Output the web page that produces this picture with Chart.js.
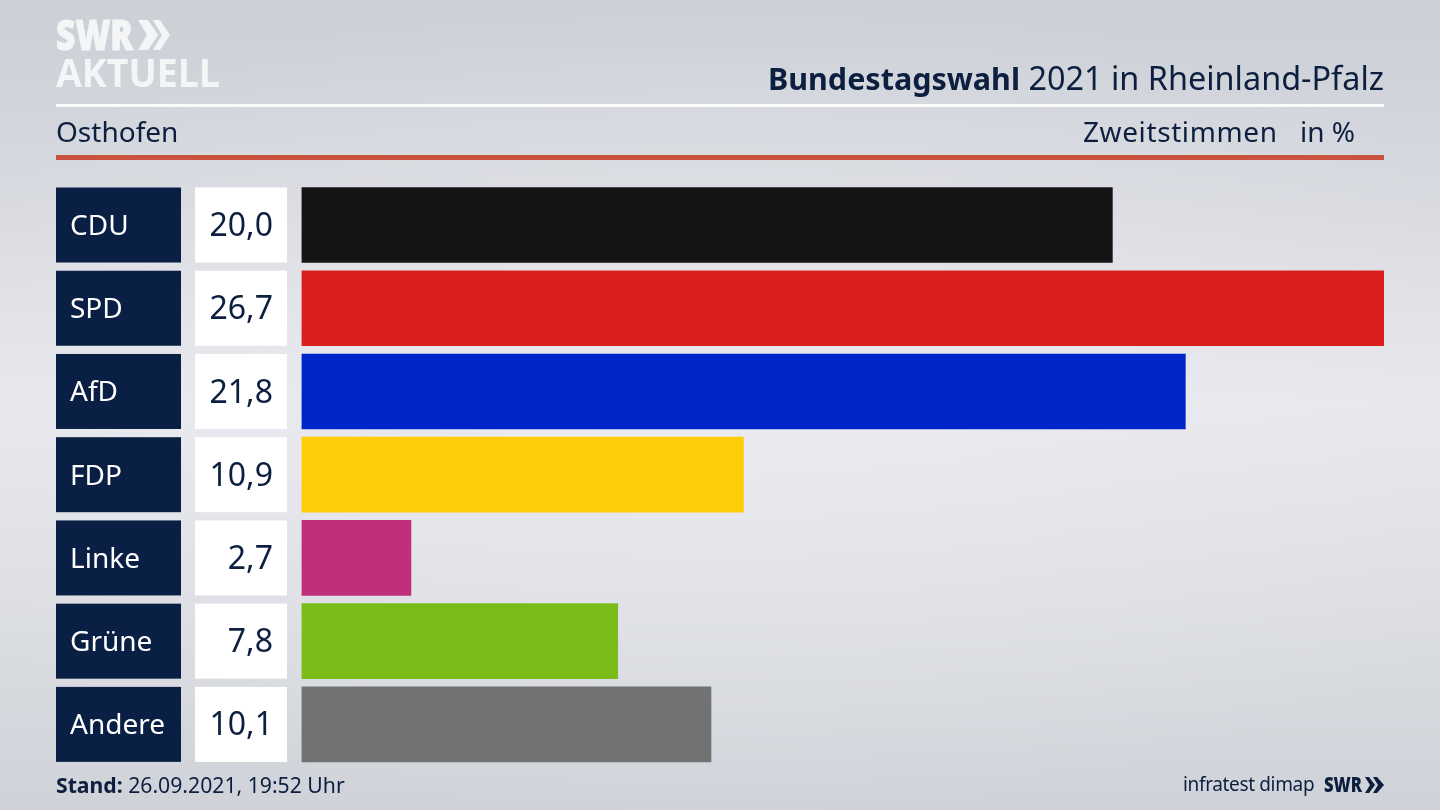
<!DOCTYPE html>
<html lang="de">
<head>
<meta charset="utf-8">
<title>Bundestagswahl 2021 in Rheinland-Pfalz</title>
<script src="https://cdn.jsdelivr.net/npm/chart.js@4"></script>
<style>
  html, body { margin: 0; padding: 0; }
  body {
    width: 1440px; height: 810px; overflow: hidden; position: relative;
    font-family: "Noto Sans", sans-serif; color: #0c1f3f;
    background:
      radial-gradient(ellipse 900px 420px at 50% 50%, rgba(240,240,245,.45), rgba(240,240,245,0)),
      linear-gradient(180deg, #cbcfd6 0%, #d8dae0 25%, #e7e8ed 50%, #dcdee3 75%, #cfd2d8 100%);
  }
  #chart { position: absolute; left: 0; top: 0; }
  .txt { position: absolute; white-space: nowrap; line-height: 1; }
  .rule { position: absolute; left: 56px; width: 1328px; }
  svg { position: absolute; left: 0; top: 0; }
</style>
</head>
<body>
<canvas id="chart" width="1440" height="810"></canvas>

<svg width="1440" height="810">
  <text x="56" y="50" font-family="Open Sans" font-weight="800" font-size="42" fill="#f4f5f7" stroke="#f4f5f7" stroke-width="1" textLength="77" lengthAdjust="spacingAndGlyphs">SWR</text>
  <polygon points="138,20 148,20 158,35 148,50 138,50 147,35" fill="#f4f5f7"/>
  <polygon points="153,20 160,20 170,35 160,50 153,50 162,35" fill="#f4f5f7"/>
  <text x="56" y="87" font-family="Open Sans" font-weight="700" font-size="40" fill="#f4f5f7" textLength="164" lengthAdjust="spacingAndGlyphs">AKTUELL</text>
  <text x="1324" y="792" font-family="Open Sans" font-weight="800" font-size="21" fill="#0c1f3f" textLength="38" lengthAdjust="spacingAndGlyphs">SWR</text>
  <polygon points="1365,777 1369,777 1375,785 1369,793 1365,793 1370,785" fill="#0c1f3f"/>
  <polygon points="1373,777 1377,777 1384,785 1377,793 1373,793 1378,785" fill="#0c1f3f"/>
</svg>

<div class="rule" style="top:104px;height:3px;background:#fbfbfc"></div>
<div class="rule" style="top:155px;height:5px;background:#c9523d"></div>

<div class="txt" style="right:56px;top:61px;font-size:32.4px"><b style="font-size:30.5px">Bundestagswahl</b> 2021 in Rheinland-Pfalz</div>
<div class="txt" style="left:56px;top:117px;font-size:28px">Osthofen</div>
<div class="txt" style="left:1083px;top:117px;font-size:28px;letter-spacing:.6px">Zweitstimmen</div>
<div class="txt" style="left:1300px;top:117px;font-size:28px">in %</div>
<div class="txt" style="left:56px;top:774px;font-size:21.2px"><b>Stand:</b> 26.09.2021, 19:52 Uhr</div>
<div class="txt" style="left:1183px;top:775px;font-size:19px;letter-spacing:-.35px">infratest dimap</div>

<script>
const parties = ['CDU', 'SPD', 'AfD', 'FDP', 'Linke', 'Grüne', 'Andere'];
const shares = [20.0, 26.7, 21.8, 10.9, 2.7, 7.8, 10.1];
const partyColors = ['#141414', '#d9201f', '#0025c8', '#ffcc08', '#c0307a', '#7abd1a', '#717274'];

const NAVY = '#0a1f44';

// boxes behind party names and the white value column
const rowBoxes = {
  id: 'rowBoxes',
  beforeDraw(chart) {
    const { ctx, scales: { y } } = chart;
    parties.forEach((p, i) => {
      const mid = y.getPixelForValue(i);
      ctx.fillStyle = NAVY;
      ctx.fillRect(56, mid - 37.5, 125, 75);
      ctx.fillStyle = '#ffffff';
      ctx.fillRect(195, mid - 37.5, 92, 75);
    });
  },
  afterDraw(chart) {
    const { ctx, scales: { y } } = chart;
    ctx.save();
    ctx.font = '32px "Noto Sans"';
    ctx.fillStyle = '#0c1f3f';
    ctx.textAlign = 'right';
    ctx.textBaseline = 'middle';
    shares.forEach((v, i) => {
      ctx.fillText(v.toFixed(1).replace('.', ','), 273, y.getPixelForValue(i) + 2);
    });
    ctx.restore();
  }
};

new Chart(document.getElementById('chart'), {
  type: 'bar',
  data: {
    labels: parties,
    datasets: [{
      data: shares,
      backgroundColor: partyColors,
      barThickness: 75,
      borderWidth: 0
    }]
  },
  options: {
    indexAxis: 'y',
    responsive: false,
    animation: false,
    devicePixelRatio: 1,
    layout: { padding: { left: 70, right: 56, top: 183.4, bottom: 44 } },
    plugins: { legend: { display: false }, tooltip: { enabled: false } },
    scales: {
      x: { display: false, min: 0, max: 26.7 },
      y: {
        afterFit(scale) { scale.width = 231.5; },
        grid: { display: false },
        border: { display: false },
        ticks: {
          crossAlign: 'far',
          padding: 0,
          labelOffset: 2,
          color: '#ffffff',
          font: { family: '"Noto Sans"', size: 28 }
        }
      }
    }
  },
  plugins: [rowBoxes]
});
</script>
</body>
</html>
